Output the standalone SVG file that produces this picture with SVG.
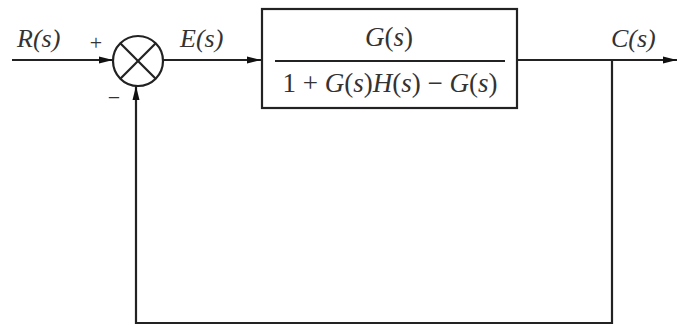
<svg xmlns="http://www.w3.org/2000/svg" width="677" height="326" viewBox="0 0 677 326">
<defs>
<marker id="ah" markerWidth="14" markerHeight="8" refX="14" refY="4" orient="auto" markerUnits="userSpaceOnUse">
<path d="M0,0.5 L14,4 L0,7.5 Z" fill="#111"/>
</marker>
</defs>
<style>
.ln{stroke:#222;stroke-width:2.2;fill:none}
.lbl{font-family:"Liberation Serif",serif;font-style:italic;font-size:26px;fill:#333}
.sym{font-family:"Liberation Serif",serif;font-size:22px;fill:#333}
.frac{font-family:"Liberation Serif",serif;font-size:27px;fill:#333}
</style>
<rect width="677" height="326" fill="#fff"/>
<g id="connectors">
<line class="ln" x1="12" y1="60" x2="113" y2="60" marker-end="url(#ah)"/>
<line class="ln" x1="163" y1="60" x2="261" y2="60" marker-end="url(#ah)"/>
<line class="ln" x1="517" y1="60" x2="677" y2="60" marker-end="url(#ah)"/>
<polyline class="ln" points="612,60 612,323 136,323 136,86" marker-end="url(#ah)"/>
</g>
<g id="sum">
<circle class="ln" cx="138" cy="61" r="25"/>
<line class="ln" x1="120.3" y1="43.3" x2="155.7" y2="78.7"/>
<line class="ln" x1="155.7" y1="43.3" x2="120.3" y2="78.7"/>
<text class="sym" x="96" y="50" text-anchor="middle">+</text>
<text class="sym" x="114" y="105" text-anchor="middle">−</text>
</g>
<g id="block">
<rect class="ln" x="262" y="9" width="255" height="99"/>
<line class="ln" x1="275" y1="61" x2="505" y2="61"/>
<text class="frac" x="389" y="46" text-anchor="middle"><tspan font-style="italic">G</tspan>(<tspan font-style="italic">s</tspan>)</text>
<text class="frac" x="390" y="92" text-anchor="middle">1 + <tspan font-style="italic">G</tspan>(<tspan font-style="italic">s</tspan>)<tspan font-style="italic">H</tspan>(<tspan font-style="italic">s</tspan>) − <tspan font-style="italic">G</tspan>(<tspan font-style="italic">s</tspan>)</text>
</g>
<g id="labels">
<text class="lbl" x="17" y="47">R(s)</text>
<text class="lbl" x="180" y="47">E(s)</text>
<text class="lbl" x="611" y="47">C(s)</text>
</g>
</svg>
